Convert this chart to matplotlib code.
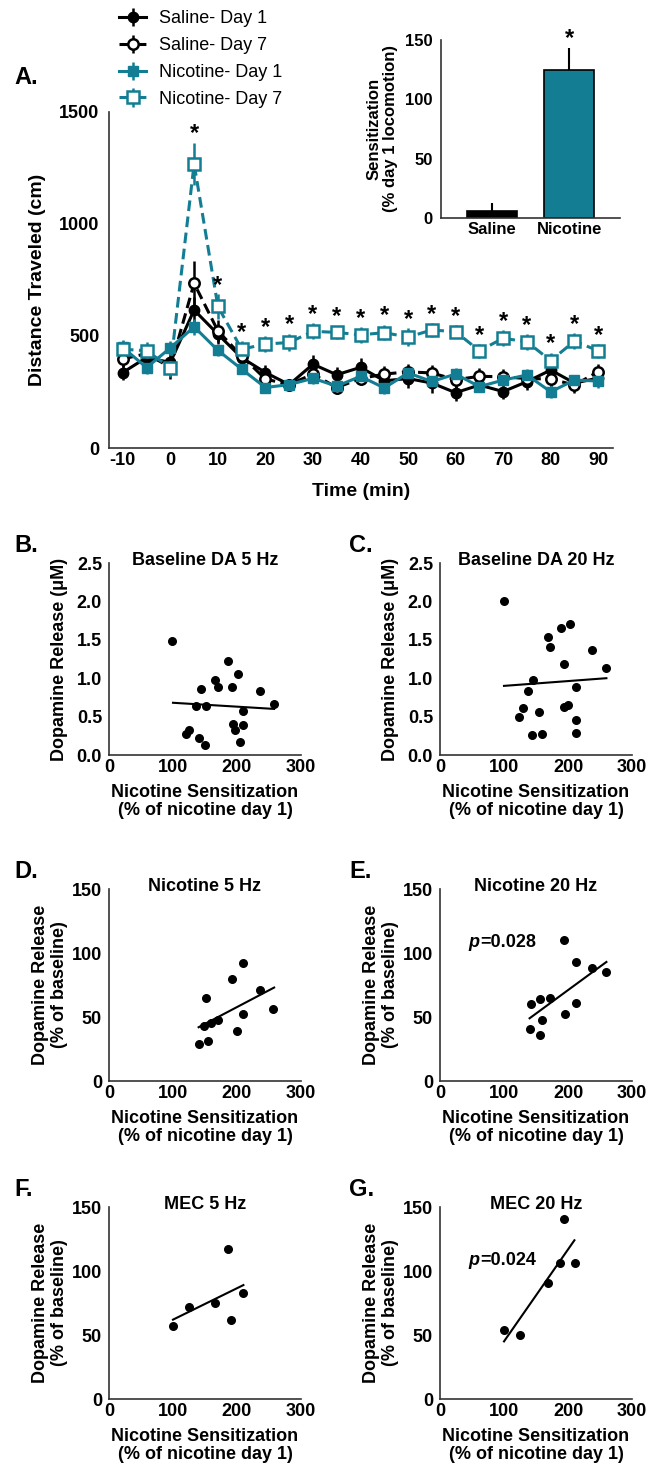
import numpy as np
import matplotlib.pyplot as plt

plt.rcParams['font.family'] = ['Liberation Sans', 'DejaVu Sans']
plt.rcParams['font.weight'] = 'bold'
plt.rcParams['axes.labelweight'] = 'bold'
plt.rcParams['axes.unicode_minus'] = False

TEAL = '#137e93'
W, H = 647, 1468

# ---- panel A data (distance traveled, cm) ----
time = [-10, -5, 0, 5, 10, 15, 20, 25, 30, 35, 40, 45, 50, 55, 60, 65, 70, 75, 80, 85, 90]
sal_d1 = [337, 404, 382, 616, 508, 403, 337, 283, 374, 327, 360, 300, 310, 290, 247, 281, 252, 296, 348, 290, 312]
sal_d1_err = [35, 40, 45, 60, 45, 35, 35, 25, 40, 35, 40, 35, 40, 45, 35, 30, 35, 35, 40, 35, 35]
sal_d7 = [398, 421, 360, 735, 523, 410, 308, 283, 330, 270, 310, 330, 340, 335, 305, 320, 318, 310, 308, 281, 341]
sal_d7_err = [35, 35, 50, 100, 50, 35, 30, 25, 30, 30, 30, 35, 35, 35, 35, 35, 35, 35, 40, 35, 35]
nic_d1 = [449, 359, 447, 541, 436, 352, 270, 283, 311, 276, 320, 268, 335, 297, 330, 274, 303, 326, 251, 303, 299]
nic_d1_err = [30, 30, 30, 35, 25, 20, 20, 20, 25, 25, 25, 25, 25, 25, 25, 25, 25, 25, 30, 25, 30]
nic_d7 = [441, 434, 359, 1268, 632, 441, 464, 471, 521, 516, 505, 515, 495, 527, 519, 434, 490, 474, 390, 477, 434]
nic_d7_err = [40, 40, 40, 95, 55, 35, 35, 40, 35, 30, 35, 35, 40, 30, 30, 30, 35, 35, 35, 35, 30]
star_times = [5, 10, 15, 20, 25, 30, 35, 40, 45, 50, 55, 60, 65, 70, 75, 80, 85, 90]

# ---- inset data ----
sens_groups = ['Saline', 'Nicotine']
sens_mean = [6, 125]
sens_err = [7, 18]

# ---- scatter data ----
B_x = [98, 186, 202, 166, 143, 170, 192, 236, 136, 152, 209, 258, 193, 210, 197, 125, 121, 140, 150, 205]
B_y = [1.48, 1.23, 1.06, 0.98, 0.86, 0.88, 0.89, 0.83, 0.64, 0.64, 0.57, 0.67, 0.40, 0.39, 0.33, 0.33, 0.27, 0.22, 0.13, 0.17]
B_fit_x = [100, 258]
B_fit_y = [0.68, 0.60]

C_x = [100, 189, 203, 169, 172, 238, 194, 260, 145, 138, 212, 194, 200, 129, 123, 155, 213, 143, 159, 213]
C_y = [2.01, 1.65, 1.70, 1.54, 1.41, 1.37, 1.18, 1.13, 0.98, 0.83, 0.89, 0.63, 0.65, 0.61, 0.50, 0.56, 0.46, 0.26, 0.27, 0.28]
C_fit_x = [100, 260]
C_fit_y = [0.90, 1.00]

D_x = [140, 148, 152, 155, 160, 170, 192, 200, 209, 210, 236, 257]
D_y = [29, 43, 65, 31, 45, 48, 80, 39, 92, 52, 71, 56]
D_fit_x = [140, 258]
D_fit_y = [42, 73]

E_x = [194, 212, 237, 260, 156, 172, 142, 212, 140, 160, 156, 195]
E_y = [110, 93, 88, 85, 64, 65, 60, 61, 41, 48, 36, 52]
E_fit_x = [140, 260]
E_fit_y = [49, 93]

F_x = [100, 125, 165, 186, 190, 210]
F_y = [57, 72, 75, 117, 62, 83]
F_fit_x = [100, 210]
F_fit_y = [62, 89]

G_x = [100, 125, 168, 188, 193, 211]
G_y = [54, 50, 91, 106, 141, 106]
G_fit_x = [100, 210]
G_fit_y = [45, 124]


def box(l, t, r, b):
    return [l / W, 1 - b / H, (r - l) / W, (b - t) / H]


def style_axes(ax, fs=13):
    ax.spines['top'].set_visible(False)
    ax.spines['right'].set_visible(False)
    for s in ['left', 'bottom']:
        ax.spines[s].set_linewidth(1.2)
        ax.spines[s].set_color('#333333')
    ax.tick_params(length=0, labelsize=fs)
    for lab in ax.get_xticklabels() + ax.get_yticklabels():
        lab.set_fontweight('bold')


fig = plt.figure(figsize=(W / 100, H / 100), dpi=100)

# ================= Panel A =================
ax = fig.add_axes(box(109, 112, 613, 448))
dash = (0, (3.5, 1.8))
h1 = ax.errorbar(time, sal_d1, yerr=sal_d1_err, color='black', lw=2.2, marker='o', ms=7.5,
                 mfc='black', elinewidth=1.8, capsize=0, label='Saline- Day 1')
h2 = ax.errorbar(time, sal_d7, yerr=sal_d7_err, color='black', lw=2.2, ls=dash, marker='o', ms=7.5,
                 mfc='white', mew=1.8, elinewidth=1.8, capsize=0, label='Saline- Day 7')
h3 = ax.errorbar(time, nic_d1, yerr=nic_d1_err, color=TEAL, lw=2.2, marker='s', ms=7.5,
                 mfc=TEAL, elinewidth=1.8, capsize=0, label='Nicotine- Day 1')
h4 = ax.errorbar(time, nic_d7, yerr=nic_d7_err, color=TEAL, lw=2.2, ls=dash, marker='s', ms=8,
                 mfc='white', mew=1.8, elinewidth=1.8, capsize=0, label='Nicotine- Day 7')
for t in star_times:
    i = time.index(t)
    ax.text(t, nic_d7[i] + nic_d7_err[i] + 40, '*', ha='center', va='center', fontsize=17,
            fontweight='bold')
ax.set_xlim(-12.9, 93.1)
ax.set_ylim(0, 1500)
ax.set_xticks(range(-10, 91, 10))
ax.set_yticks([0, 500, 1000, 1500])
ax.tick_params(axis='y', pad=7)
ax.tick_params(axis='x', pad=3)
style_axes(ax)
ax.set_ylabel('Distance Traveled (cm)', fontsize=14)
ax.yaxis.set_label_coords(-0.125, 0.5)
ax.set_xlabel('Time (min)', fontsize=14)
ax.xaxis.set_label_coords(0.5, -0.105)

fig.legend(handles=[h1, h2, h3, h4], loc='upper left', bbox_to_anchor=(119 / W, 1 - 10 / H),
           frameon=False, prop={'weight': 'normal', 'size': 13},
           borderpad=0, borderaxespad=0, labelspacing=0.55, handlelength=1.5, handletextpad=0.7)
fig.text(14 / W, 1 - 77 / H, 'A.', fontsize=17, fontweight='bold', va='center', ha='left')

# ================= Inset =================
ai = fig.add_axes(box(441, 40, 620, 218))
ai.bar([0, 1], sens_mean, width=0.65, color=['black', TEAL], edgecolor='black', lw=1.2,
       yerr=[[0, 0], sens_err], error_kw={'elinewidth': 1.5, 'capsize': 0, 'ecolor': 'black'})
ai.text(1, sens_mean[1] + sens_err[1] + 8, '*', ha='center', va='center', fontsize=17, fontweight='bold')
ai.set_xlim(-0.66, 1.66)
ai.set_ylim(0, 150)
ai.set_yticks([0, 50, 100, 150])
ai.set_xticks([0, 1])
ai.set_xticklabels(sens_groups)
style_axes(ai, fs=12)
ai.tick_params(axis='y', pad=6)
ai.tick_params(axis='x', pad=3)
ai.set_ylabel('Sensitization\n(% day 1 locomotion)', fontsize=12, linespacing=1.1)
ai.yaxis.set_label_coords(-0.24, 0.5)

# ================= Scatter panels =================
xlab = 'Nicotine Sensitization\n(% of nicotine day 1)'
panels = [
    ('B.', 'Baseline DA 5 Hz', B_x, B_y, B_fit_x, B_fit_y, 109, 563, 'uM', None),
    ('C.', 'Baseline DA 20 Hz', C_x, C_y, C_fit_x, C_fit_y, 440, 563, 'uM', None),
    ('D.', 'Nicotine 5 Hz', D_x, D_y, D_fit_x, D_fit_y, 109, 889, 'pct', None),
    ('E.', 'Nicotine 20 Hz', E_x, E_y, E_fit_x, E_fit_y, 440, 889, 'pct', '0.028'),
    ('F.', 'MEC 5 Hz', F_x, F_y, F_fit_x, F_fit_y, 109, 1207, 'pct', None),
    ('G.', 'MEC 20 Hz', G_x, G_y, G_fit_x, G_fit_y, 440, 1207, 'pct', '0.024'),
]
for letter, title, xs, ys, fx, fy, left, top, kind, pval in panels:
    a = fig.add_axes(box(left, top, left + 192, top + 192))
    a.scatter(xs, ys, s=30, color='black', zorder=3)
    a.plot(fx, fy, color='black', lw=1.5)
    a.set_xlim(0, 300)
    a.set_xticks([0, 100, 200, 300])
    if kind == 'uM':
        a.set_ylim(0, 2.5)
        a.set_yticks([0, 0.5, 1.0, 1.5, 2.0, 2.5])
        a.set_yticklabels(['0.0', '0.5', '1.0', '1.5', '2.0', '2.5'])
        a.set_ylabel('Dopamine Release (\u03bcM)', fontsize=13)
    else:
        a.set_ylim(0, 150)
        a.set_yticks([0, 50, 100, 150])
        a.set_ylabel('Dopamine Release\n(% of baseline)', fontsize=13, linespacing=1.1)
    style_axes(a)
    a.tick_params(axis='y', pad=5)
    a.tick_params(axis='x', pad=3)
    a.yaxis.set_label_coords(-0.215, 0.5)
    a.set_xlabel(xlab, fontsize=13, linespacing=1.1)
    a.xaxis.set_label_coords(0.5, -0.15)
    a.text(0.5, 1.015, title, transform=a.transAxes, ha='center', va='center', fontsize=13,
           fontweight='bold')
    if pval:
        ptxt = a.text(45, 105, 'p', fontsize=13, style='italic', fontweight='bold',
                      va='baseline', ha='left')
        a.annotate('=' + pval, xy=(1, 0), xycoords=ptxt, va='bottom', ha='left',
                   fontsize=13, fontweight='bold')
    lx = 349 if left > 200 else 14
    fig.text(lx / W, 1 - (top - 18) / H, letter, fontsize=17,
             fontweight='bold', va='center', ha='left')

plt.savefig('out.png', dpi=100, facecolor='white')
